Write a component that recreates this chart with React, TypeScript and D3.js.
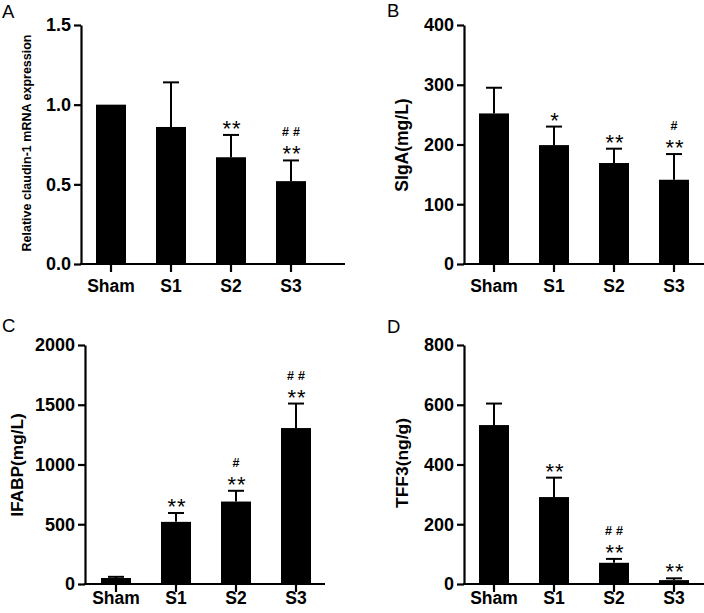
import { useEffect, useRef } from "react";
import * as d3 from "d3";

const groups = ["Sham", "S1", "S2", "S3"];

// A: claudin-1 mRNA
const claudinMean = [1.0, 0.86, 0.67, 0.52];
const claudinErr = [0, 0.28, 0.14, 0.13];
const claudinStars = ["", "", "**", "**"];
const claudinHash = ["", "", "", "##"];
const claudinTicks = [0, 0.5, 1.0, 1.5];

// B: SIgA
const sigaMean = [252, 199, 169, 141];
const sigaErr = [43, 31, 24, 43];
const sigaStars = ["", "*", "**", "**"];
const sigaHash = ["", "", "", "#"];
const sigaTicks = [0, 100, 200, 300, 400];

// C: IFABP
const ifabpMean = [50, 520, 690, 1305];
const ifabpErr = [10, 74, 90, 205];
const ifabpStars = ["", "**", "**", "**"];
const ifabpHash = ["", "", "#", "##"];
const ifabpTicks = [0, 500, 1000, 1500, 2000];

// D: TFF3
const tff3Mean = [532, 291, 71, 13];
const tff3Err = [72, 65, 13, 6];
const tff3Stars = ["", "**", "**", "**"];
const tff3Hash = ["", "", "##", ""];
const tff3Ticks = [0, 200, 400, 600, 800];

const FONT = "'Liberation Sans', Arial, sans-serif";

const panels = [
  { letter: "A", lx: 2, ly: 18, axisX: 81, bandX: 81, top: 25, bottom: 264, axisEnd: 345,
    labelX: 31, labelY: 143, labelSize: 12.5, catDy: 28,
    yLabel: "Relative claudin-1 mRNA expression", fmt: ".1f",
    mean: claudinMean, err: claudinErr, stars: claudinStars, hashes: claudinHash, ticks: claudinTicks },
  { letter: "B", lx: 387, ly: 17, axisX: 464, bandX: 464, top: 25, bottom: 264, axisEnd: 704,
    labelX: 408, labelY: 145, labelSize: 17.5, catDy: 28,
    yLabel: "SIgA(mg/L)", fmt: "d",
    mean: sigaMean, err: sigaErr, stars: sigaStars, hashes: sigaHash, ticks: sigaTicks },
  { letter: "C", lx: 2, ly: 332, axisX: 85, bandX: 86, top: 345, bottom: 584, axisEnd: 325,
    labelX: 22.5, labelY: 465, labelSize: 17.3, catDy: 20,
    yLabel: "IFABP(mg/L)", fmt: "d",
    mean: ifabpMean, err: ifabpErr, stars: ifabpStars, hashes: ifabpHash, ticks: ifabpTicks },
  { letter: "D", lx: 387, ly: 332.5, axisX: 464, bandX: 464, top: 345, bottom: 584, axisEnd: 704,
    labelX: 407.5, labelY: 463, labelSize: 17.4, catDy: 20,
    yLabel: "TFF3(ng/g)", fmt: "d",
    mean: tff3Mean, err: tff3Err, stars: tff3Stars, hashes: tff3Hash, ticks: tff3Ticks },
];

type Panel = typeof panels[number];

const drawPanel = (svg: d3.Selection<SVGSVGElement, unknown, null, undefined>, p: Panel) => {
  const g = svg.append("g");
  const y = d3.scaleLinear()
    .domain([0, p.ticks[p.ticks.length - 1]])
    .range([p.bottom, p.top]);
  const x = d3.scaleBand()
    .domain(groups)
    .range([p.bandX, p.bandX + 240])
    .paddingInner(0.5)
    .paddingOuter(0.25);
  const cx = (i: number) => x(groups[i])! + x.bandwidth() / 2;

  // bars
  g.selectAll(".bar")
    .data(p.mean)
    .enter().append("rect")
    .attr("x", (_d, i) => x(groups[i])!)
    .attr("y", d => y(d))
    .attr("width", x.bandwidth())
    .attr("height", d => p.bottom - y(d))
    .attr("fill", "#000");

  // error bars (upper only)
  p.mean.forEach((m, i) => {
    if (!p.err[i]) return;
    const yt = y(m + p.err[i]);
    g.append("line")
      .attr("x1", cx(i)).attr("x2", cx(i))
      .attr("y1", y(m)).attr("y2", yt)
      .attr("stroke", "#000").attr("stroke-width", 2);
    g.append("line")
      .attr("x1", cx(i) - 8).attr("x2", cx(i) + 8)
      .attr("y1", yt).attr("y2", yt)
      .attr("stroke", "#000").attr("stroke-width", 2);
  });

  // significance marks
  p.stars.forEach((s, i) => {
    const errTop = y(p.mean[i] + p.err[i]);
    const starBottom = errTop - 8.5;
    if (s) {
      g.append("text")
        .attr("x", cx(i) + 1)
        .attr("y", starBottom + 9.5)
        .attr("text-anchor", "middle")
        .attr("font-family", FONT)
        .attr("font-size", 22)
        .attr("letter-spacing", 1)
        .text(s);
    }
    const h = p.hashes[i];
    if (h) {
      g.append("text")
        .attr("x", cx(i) + 2)
        .attr("y", starBottom - 15.5)
        .attr("text-anchor", "middle")
        .attr("font-family", FONT)
        .attr("font-weight", "bold")
        .attr("font-size", 12.5)
        .attr("letter-spacing", 4)
        .text(h);
    }
  });

  // y axis
  const yAxis = g.append("g")
    .attr("transform", `translate(${p.axisX},0)`)
    .call(d3.axisLeft(y).tickValues(p.ticks).tickSize(7).tickSizeOuter(0).tickPadding(3)
      .tickFormat(d => d3.format(p.fmt)(d as number)));
  yAxis.select(".domain").attr("stroke-width", 2.2);
  yAxis.selectAll(".tick line").attr("stroke-width", 2.2);
  yAxis.selectAll("text")
    .attr("font-family", FONT)
    .attr("font-weight", "bold")
    .attr("font-size", 18)
    .attr("fill", "#000");

  // x axis
  g.append("line")
    .attr("x1", p.axisX - 1).attr("x2", p.axisEnd)
    .attr("y1", p.bottom).attr("y2", p.bottom)
    .attr("stroke", "#000").attr("stroke-width", 2.2);
  const xAxis = g.append("g")
    .attr("transform", `translate(0,${p.bottom})`)
    .call(d3.axisBottom(x).tickSize(8).tickSizeOuter(0).tickPadding(p.catDy - 8 - 0.71 * 17.5));
  xAxis.select(".domain").remove();
  xAxis.selectAll(".tick line").attr("stroke-width", 2.2);
  xAxis.selectAll("text")
    .attr("font-family", FONT)
    .attr("font-weight", "bold")
    .attr("font-size", 17.5)
    .attr("fill", "#000");

  // y label
  g.append("text")
    .attr("transform", `translate(${p.labelX},${p.labelY}) rotate(-90)`)
    .attr("text-anchor", "middle")
    .attr("font-family", FONT)
    .attr("font-weight", "bold")
    .attr("font-size", p.labelSize)
    .text(p.yLabel);

  // panel letter
  g.append("text")
    .attr("x", p.lx)
    .attr("y", p.ly)
    .attr("font-family", FONT)
    .attr("font-size", 18.5)
    .text(p.letter);
};

export default function App() {
  const ref = useRef<SVGSVGElement>(null);
  useEffect(() => {
    if (!ref.current) return;
    const svg = d3.select(ref.current);
    svg.selectAll("*").remove();
    panels.forEach(p => drawPanel(svg, p));
  }, []);
  return (
    <svg
      ref={ref}
      width={704}
      height={613}
      style={{ position: "absolute", left: 0, top: 0, background: "#fff" }}
    />
  );
}
